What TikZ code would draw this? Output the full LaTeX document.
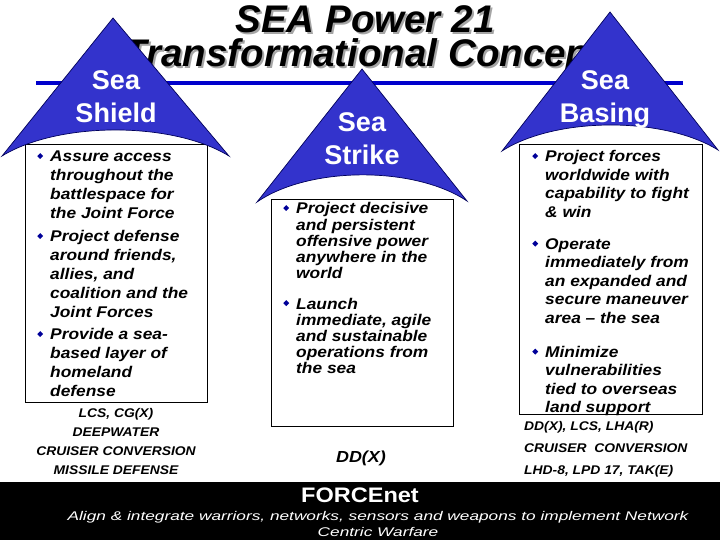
\documentclass[tikz,border=0pt]{standalone}
\usepackage{fontspec}
\setmainfont{Liberation Sans}
\newfontfamily\bdyfont[FakeStretch=1.12]{Liberation Sans}
\newfontfamily\lblfont[FakeStretch=1.1]{Liberation Sans}
\newfontfamily\ftfont[FakeStretch=1.37]{Liberation Sans}
\newfontfamily\forcefnt[FakeStretch=1.12]{Liberation Sans}
\definecolor{triblue}{RGB}{51,51,204}
\definecolor{triedge}{RGB}{0,0,90}
\definecolor{lineblue}{RGB}{0,0,204}
\definecolor{bulblue}{RGB}{0,0,153}
\definecolor{shadowgray}{RGB}{165,165,165}
\newcommand{\mybul}{\llap{\raisebox{3pt}{\rotatebox{45}{\textcolor{bulblue}{\rule{4.2pt}{4.2pt}}}}\hspace{7pt}}}
\newcommand{\shadowed}[1]{\makebox[0pt][l]{\hspace{2pt}\raisebox{-2pt}[0pt][0pt]{\textcolor{shadowgray}{#1}}}#1}
\begin{document}
\begin{tikzpicture}[x=1pt,y=-1pt,
  tri/.style={fill=triblue,draw=triedge,line width=0.7pt},
  boxframe/.style={draw=black,line width=0.8pt},
  titletext/.style={font=\fontsize{38.5}{40}\selectfont\bfseries\itshape,inner sep=0pt,anchor=base},
  tritext/.style={font=\fontsize{27}{33}\selectfont\bfseries,text=white,inner sep=0pt,anchor=base},
  bodytext/.style={inner sep=0pt,anchor=base west},
  lbltext/.style={inner sep=0pt,font=\lblfont\fontsize{12.6}{19}\selectfont\bfseries\itshape},
  foottext/.style={inner sep=0pt,anchor=base,text=white,font=\ftfont\fontsize{12.6}{13}\selectfont\itshape}
]
\useasboundingbox (0,0) rectangle (720,540);

% title with shadow
\node[titletext] (t1) at (365,33) {\shadowed{SEA Power 21}};
\node[titletext] (t2) at (363,67) {\shadowed{Transformational Concept}};

% blue rule
\draw[lineblue,line width=3.5pt] (36,83) -- (683,83);

% boxes
\draw[boxframe] (25,144) rectangle (207,402);
\draw[boxframe] (271,199) rectangle (453,426);
\draw[boxframe] (519,144) rectangle (702,414);

% triangles
\draw[tri] (113,18) -- (229,156) .. controls (172.25,121.3) and (58.75,121.3) .. (2,156) -- cycle;
\draw[tri] (362,69) -- (467,201) .. controls (414.5,166) and (309.5,166) .. (257,202) -- cycle;
\draw[tri] (610,12) -- (718,150) .. controls (664,116.5) and (556,116.5) .. (502,151) -- cycle;

% triangle labels
\node[tritext] (shieldlbl) at (116,90) {\begin{tabular}[t]{@{}c@{}}Sea\\Shield\end{tabular}};
\node[tritext] (strikelbl) at (362,132) {\begin{tabular}[t]{@{}c@{}}Sea\\Strike\end{tabular}};
\node[tritext] (basinglbl) at (605,90) {\begin{tabular}[t]{@{}c@{}}Sea\\Basing\end{tabular}};

% body texts
\node[bodytext,font=\bdyfont\fontsize{15.5}{19}\selectfont\bfseries\itshape] (shieldtext) at (50,162) {\begin{tabular}[t]{@{}l@{}}
\mybul Assure access\\ throughout the\\ battlespace for\\ the Joint Force\\[4pt]
\mybul Project defense\\ around friends,\\ allies, and\\ coalition and the\\ Joint Forces\\[3pt]
\mybul Provide a sea-\\ based layer of\\ homeland\\ defense
\end{tabular}};

\node[bodytext,font=\bdyfont\fontsize{15.5}{16}\selectfont\bfseries\itshape] (striketext) at (296,214) {\begin{tabular}[t]{@{}l@{}}
\mybul Project decisive\\ and persistent\\ offensive power\\ anywhere in the\\ world\\[15pt]
\mybul Launch\\ immediate, agile\\ and sustainable\\ operations from\\ the sea
\end{tabular}};

\node[bodytext,font=\bdyfont\fontsize{15.5}{18.4}\selectfont\bfseries\itshape] (basingtext) at (545,162) {\begin{tabular}[t]{@{}l@{}}
\mybul Project forces\\ worldwide with\\ capability to fight\\ \& win\\[14pt]
\mybul Operate\\ immediately from\\ an expanded and\\ secure maneuver\\ area – the sea\\[16pt]
\mybul Minimize\\ vulnerabilities\\ tied to overseas\\ land support
\end{tabular}};

% programme labels
\node[lbltext,anchor=base] (shieldprog) at (116,417) {\begin{tabular}[t]{@{}c@{}}LCS, CG(X)\\ DEEPWATER\\ CRUISER CONVERSION\\ MISSILE DEFENSE\end{tabular}};
\node[lbltext,anchor=base west,font=\lblfont\fontsize{12.6}{22}\selectfont\bfseries\itshape] (basingprog) at (524,430) {\begin{tabular}[t]{@{}l@{}}DD(X), LCS, LHA(R)\\ CRUISER\ \ CONVERSION\\ LHD-8, LPD 17, TAK(E)\end{tabular}};
\node[inner sep=0pt,anchor=base,font=\bdyfont\fontsize{16}{19}\selectfont\bfseries\itshape] (strikeprog) at (361,462) {DD(X)};

% footer band
\fill[black] (0,482) rectangle (720,540);
\node[inner sep=0pt,anchor=base,text=white,font=\forcefnt\fontsize{21}{22}\selectfont\bfseries] (forcenet) at (360,502) {FORCEnet};
\node[foottext] (align1) at (378,520) {Align \& integrate warriors, networks, sensors and weapons to implement Network};
\node[foottext] (align2) at (378,536) {Centric Warfare};
\end{tikzpicture}
\end{document}
